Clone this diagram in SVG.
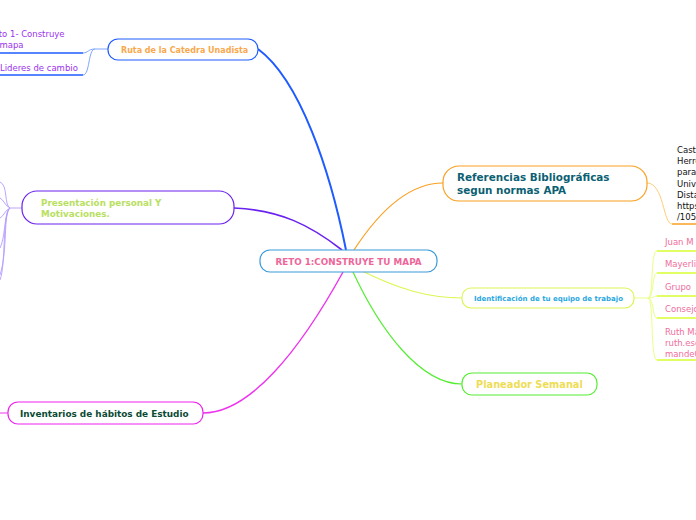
<svg xmlns="http://www.w3.org/2000/svg" width="696" height="520" viewBox="0 0 696 520">
<style>
text{font-family:"DejaVu Sans","Verdana",sans-serif}
.b{font-weight:bold}
.node{fill:#fff;stroke-width:1.2}
.sub{font-size:8.5px}
.c{fill:none}
</style>
<rect width="696" height="520" fill="#fff"/>
<g id="connectors" class="c">
<path d="M346,250 C330,170 300,80 258,49" stroke="#1f5cff" stroke-width="2"/>
<path d="M342,250 C310,225 280,210 234,208" stroke="#6a22ee" stroke-width="1.6"/>
<path d="M343,272 C300,350 250,413 203,413" stroke="#ee33ee" stroke-width="1.4"/>
<path d="M353,272 C380,330 420,384 462,384" stroke="#55ee33" stroke-width="1.2"/>
<path d="M360,270 C400,290 430,298 462,298" stroke="#ddf555" stroke-width="1.2"/>
<path d="M354,250 C380,210 410,183 443,183" stroke="#f9a020" stroke-width="1.2"/>
<g stroke="#7ea6ff" stroke-width="1">
<path d="M108,49 L95,49 C88,49 88,53 83,53"/>
<path d="M95,49 C88,49 90,75 83,75"/>
</g>
<path d="M0,53 H83 M0,75 H83" stroke="#1f5cff" stroke-width="1.5"/>
<g stroke="#b49cff" stroke-width="0.9">
<path d="M22,208 H10"/>
<path d="M10,208 C4,205 8,185 0,182"/>
<path d="M10,208 C5,206 4,200 0,198"/>
<path d="M10,208 C5,210 4,216 0,218"/>
<path d="M10,208 C4,212 6,235 0,248"/>
<path d="M10,208 C3,214 8,250 0,275"/>
<path d="M10,208 C2,215 6,265 0,280"/>
</g>
<path d="M8,413 H0" stroke="#ee33ee" stroke-width="1"/>
<path d="M647,183 C664,183 663,224 672,224" stroke="#ffcc77" stroke-width="1"/>
<path d="M672,224 H696" stroke="#f9a020" stroke-width="1.5"/>
<g stroke="#e8ff88" stroke-width="1">
<path d="M634,298 H648"/>
<path d="M648,298 C654,298 650,251 657,251"/>
<path d="M648,298 C654,298 652,273 657,273"/>
<path d="M648,298 C654,298 654,296 657,296"/>
<path d="M648,298 C654,298 652,318 657,318"/>
<path d="M648,298 C654,298 650,360 657,360"/>
</g>
<path d="M657,251 H696 M657,273 H696 M657,296 H696 M657,318 H696 M657,360 H696" stroke="#d8ff33" stroke-width="1.5"/>
</g>
<g id="center">
<rect class="node" x="260" y="250" width="177" height="22" rx="10" stroke="#3a9ad9"/>
<text class="b" x="348.5" y="265" font-size="8.8" fill="#ee6699" text-anchor="middle">RETO 1:CONSTRUYE TU MAPA</text>
</g>
<g id="ruta">
<rect class="node" x="108" y="39" width="150" height="21" rx="10" stroke="#1f5cff"/>
<text class="b" x="121" y="53" font-size="8" fill="#f9a84c">Ruta de la Catedra Unadista</text>
</g>
<g id="reto1">
<text class="sub" x="-12" y="37" fill="#9933ee">Reto 1- Construye</text>
<text class="sub" x="-12" y="48" fill="#9933ee">tu mapa</text>
</g>
<g id="lideres">
<text class="sub" x="0" y="71" fill="#9933ee">Lideres de cambio</text>
</g>
<g id="presentacion">
<rect class="node" x="22" y="191" width="212" height="33" rx="15" stroke="#6a22ee"/>
<text class="b" x="41" y="206" font-size="8.8" fill="#b8e060">Presentación personal Y</text>
<text class="b" x="41" y="217" font-size="8.8" fill="#b8e060">Motivaciones.</text>
</g>
<g id="inventarios">
<rect class="node" x="8" y="402" width="195" height="22" rx="10" stroke="#ee22ee"/>
<text class="b" x="20" y="417" font-size="8.9" fill="#0b4a33">Inventarios de hábitos de Estudio</text>
</g>
<g id="referencias">
<rect class="node" x="443" y="166" width="204" height="35" rx="16" stroke="#f9a020"/>
<text class="b" x="457" y="181" font-size="10.4" fill="#0c5f73">Referencias Bibliográficas</text>
<text class="b" x="457" y="194" font-size="10.4" fill="#0c5f73">segun normas APA</text>
</g>
<g id="cita" font-size="8.5" fill="#111">
<text x="677" y="153">Castro</text>
<text x="677" y="164">Herrera</text>
<text x="677" y="175">para</text>
<text x="677" y="187">Universidad</text>
<text x="677" y="198">Distancia</text>
<text x="677" y="209">https</text>
<text x="677" y="220">/105</text>
</g>
<g id="identificacion">
<rect class="node" x="462" y="288" width="172" height="20" rx="9" stroke="#ddf555"/>
<text class="b" x="474" y="301" font-size="7" fill="#2aa8e0">Identificación de tu equipo de trabajo</text>
</g>
<g id="equipo" font-size="8.5" fill="#f06d9d">
<text x="665" y="245">Juan M</text>
<text x="665" y="267">Mayerli</text>
<text x="665" y="290">Grupo</text>
<text x="665" y="312">Consejo</text>
<text x="665" y="335">Ruth Ma</text>
<text x="665" y="346">ruth.esc</text>
<text x="665" y="357">mande0</text>
</g>
<g id="planeador">
<rect class="node" x="462" y="373" width="135" height="22" rx="10" stroke="#55ee33"/>
<text class="b" x="476" y="388" font-size="9.8" fill="#eedd55">Planeador Semanal</text>
</g>
</svg>
